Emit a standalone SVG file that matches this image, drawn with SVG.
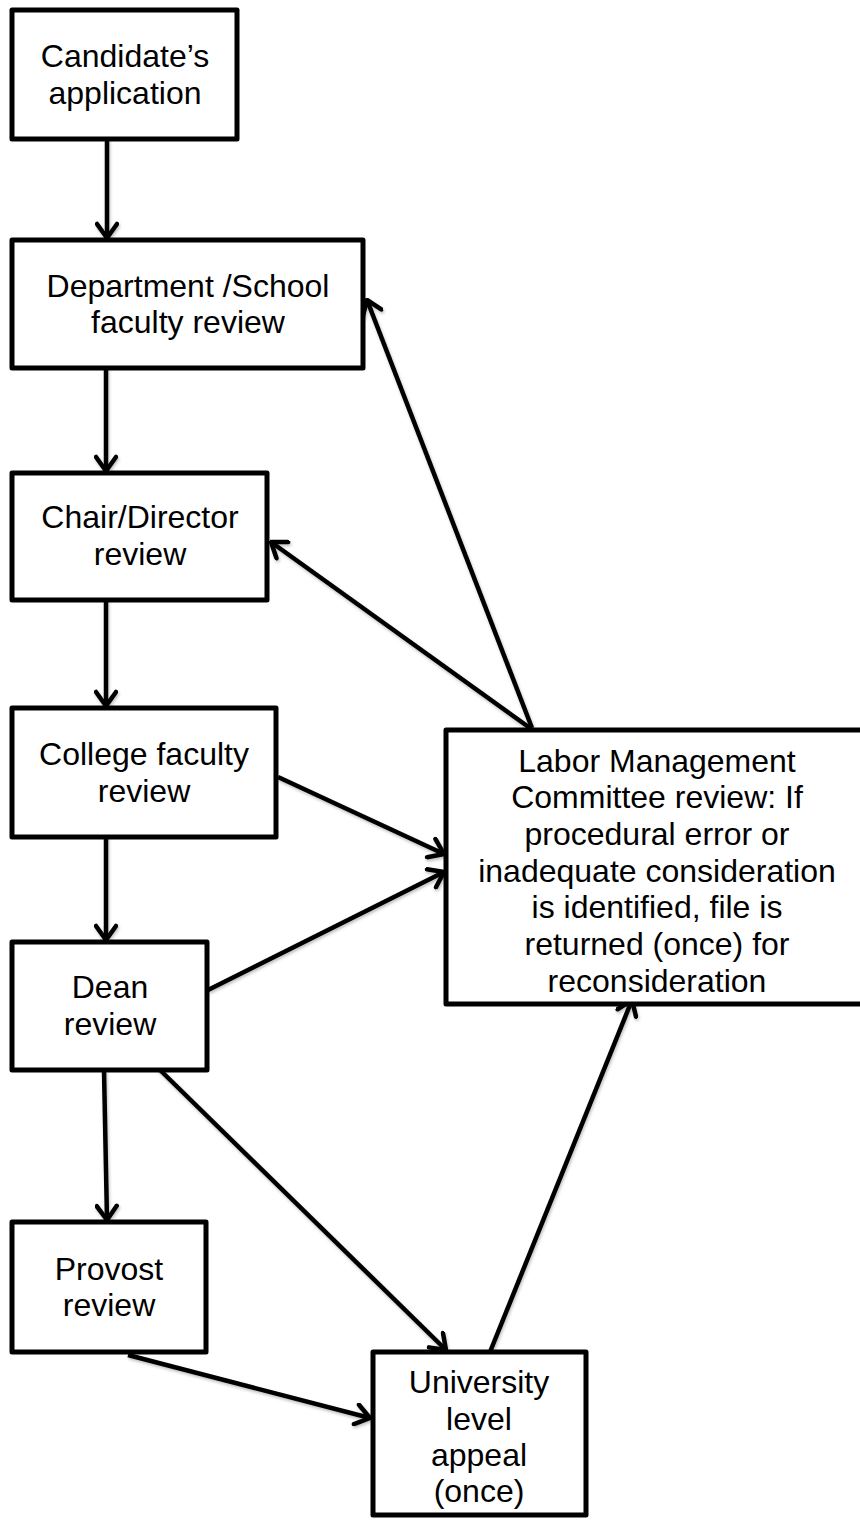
<svg xmlns="http://www.w3.org/2000/svg" width="860" height="1520" viewBox="0 0 860 1520">
<style>
.box{fill:#fff;stroke:#000;stroke-width:5;stroke-linejoin:round}
.lbl{font-family:"Liberation Sans",Arial,sans-serif;font-size:32px;fill:#000;text-anchor:middle}
.cn{stroke:#000;stroke-width:4.5;fill:none;marker-end:url(#ah)}
</style>
<defs>
<marker id="ah" viewBox="-18 -12 20 24" markerWidth="20" markerHeight="24" refX="0" refY="0" orient="auto" markerUnits="userSpaceOnUse">
<path d="M-14,-10 L0,0 L-14,10" fill="none" stroke="#000" stroke-width="4.5" stroke-linecap="round" stroke-linejoin="round"/>
</marker>
<filter id="sh" x="-10%" y="-10%" width="120%" height="120%">
<feDropShadow dx="1" dy="2" stdDeviation="1.5" flood-color="#000" flood-opacity="0.25"/>
</filter>
</defs>
<rect width="860" height="1520" fill="#fff"/>
<g id="connectors" filter="url(#sh)">
<line class="cn" x1="107" y1="139" x2="107" y2="238"/>
<line class="cn" x1="106" y1="368" x2="106" y2="471"/>
<line class="cn" x1="106" y1="600" x2="106" y2="706"/>
<line class="cn" x1="106" y1="837" x2="106" y2="940"/>
<line class="cn" x1="104" y1="1070" x2="107" y2="1220"/>
<line class="cn" x1="532" y1="728" x2="367" y2="300"/>
<line class="cn" x1="530" y1="728" x2="271" y2="542"/>
<line class="cn" x1="278" y1="777" x2="444" y2="854"/>
<line class="cn" x1="208" y1="990" x2="444" y2="872"/>
<line class="cn" x1="157" y1="1067" x2="446" y2="1350"/>
<line class="cn" x1="128" y1="1355" x2="370" y2="1418"/>
<line class="cn" x1="490" y1="1352" x2="632" y2="1000"/>
</g>
<g id="n1"><rect class="box" x="12" y="10" width="225" height="129"/>
<text class="lbl" x="125" y="67">Candidate’s</text><text class="lbl" x="125" y="104">application</text></g>
<g id="n2"><rect class="box" x="12" y="240" width="351" height="128"/>
<text class="lbl" x="188" y="297">Department /School</text><text class="lbl" x="188" y="333">faculty review</text></g>
<g id="n3"><rect class="box" x="12" y="473" width="255" height="127"/>
<text class="lbl" x="140" y="528">Chair/Director</text><text class="lbl" x="140" y="565">review</text></g>
<g id="n4"><rect class="box" x="12" y="708" width="264" height="129"/>
<text class="lbl" x="144" y="765">College faculty</text><text class="lbl" x="144" y="802">review</text></g>
<g id="n5"><rect class="box" x="12" y="942" width="195" height="128"/>
<text class="lbl" x="110" y="998">Dean</text><text class="lbl" x="110" y="1035">review</text></g>
<g id="n6"><rect class="box" x="12" y="1222" width="194" height="130"/>
<text class="lbl" x="109" y="1280">Provost</text><text class="lbl" x="109" y="1316">review</text></g>
<g id="n7"><rect class="box" x="373" y="1352" width="213" height="163"/>
<text class="lbl" x="479" y="1393">University</text><text class="lbl" x="479" y="1430">level</text><text class="lbl" x="479" y="1466">appeal</text><text class="lbl" x="479" y="1502">(once)</text></g>
<g id="n8"><rect class="box" x="446" y="730" width="424" height="274"/>
<text class="lbl" x="657" y="772">Labor Management</text>
<text class="lbl" x="657" y="808">Committee review: If</text>
<text class="lbl" x="657" y="845">procedural error or</text>
<text class="lbl" x="657" y="882">inadequate consideration</text>
<text class="lbl" x="657" y="918">is identified, file is</text>
<text class="lbl" x="657" y="955">returned (once) for</text>
<text class="lbl" x="657" y="992">reconsideration</text></g>
</svg>
